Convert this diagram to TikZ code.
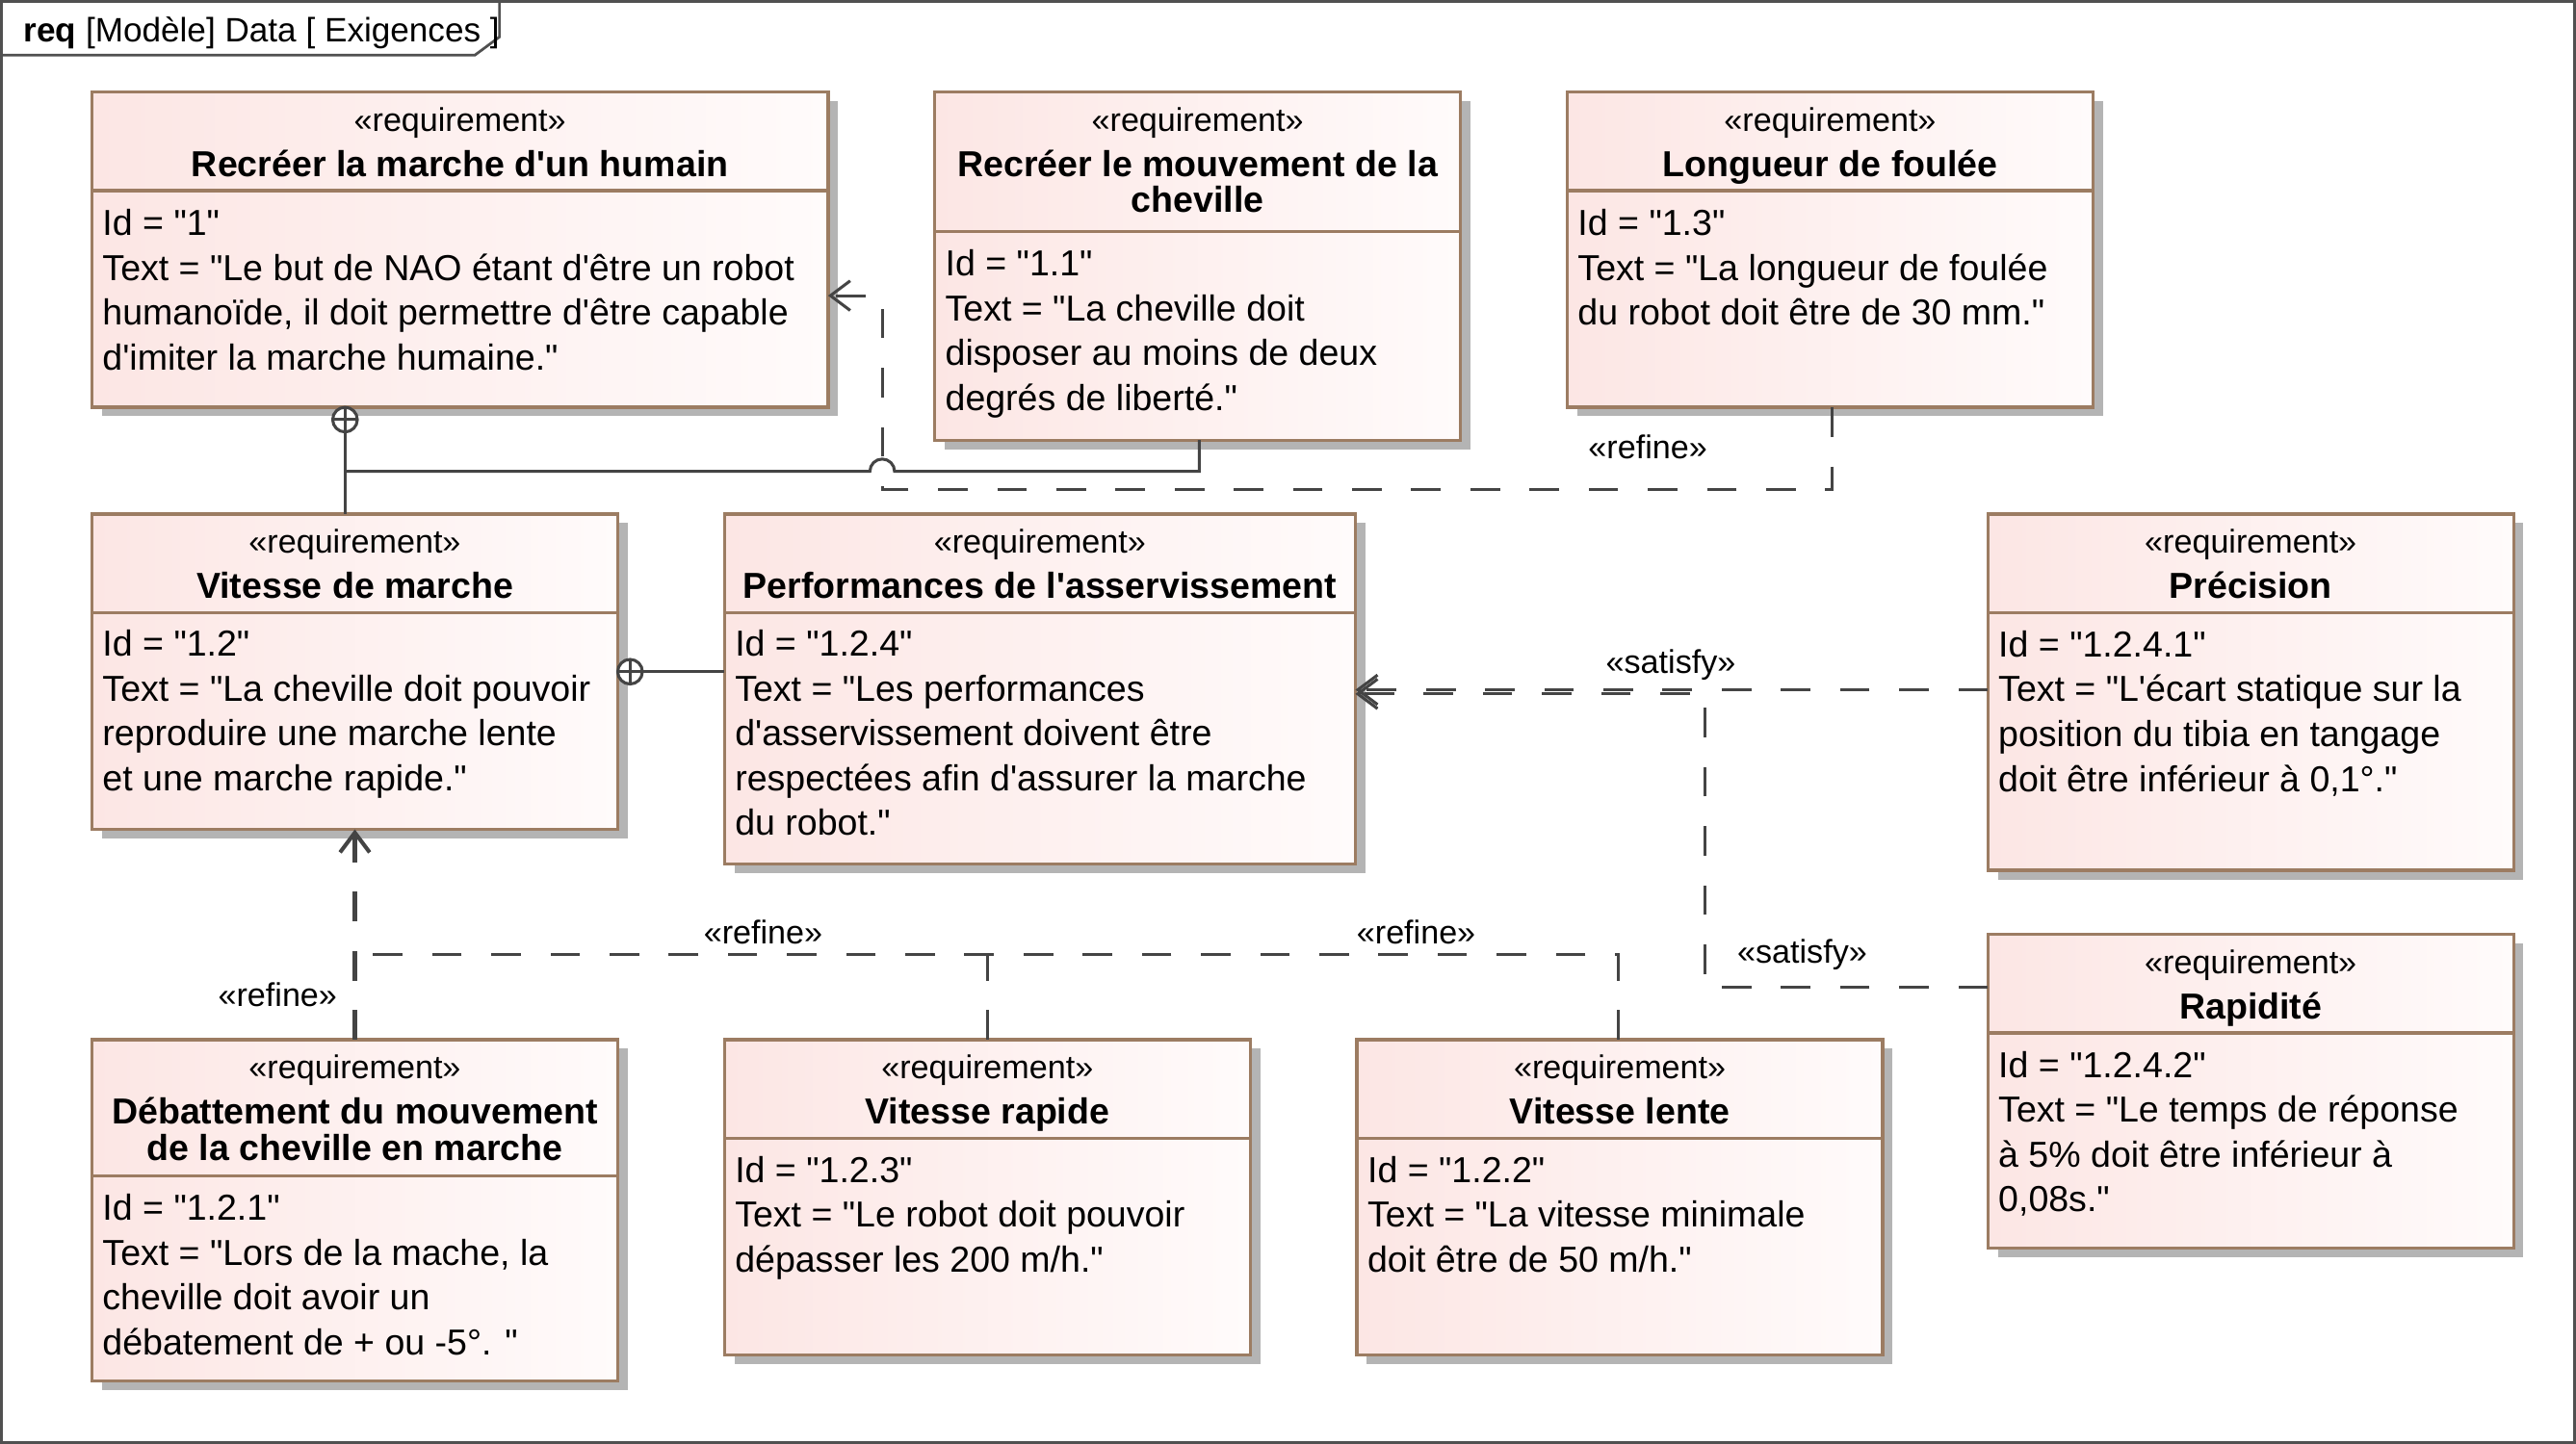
\documentclass[tikz,border=0pt]{standalone}
\usepackage{fontspec}
\setmainfont{Liberation Sans}[Ligatures=TeXOff]
\usetikzlibrary{arrows.meta,calc,fit}
\definecolor{reqborder}{RGB}{156,124,98}
\definecolor{reqpink}{RGB}{252,230,228}
\definecolor{reqwhite}{RGB}{255,251,251}
\definecolor{shadowgray}{RGB}{180,180,180}
\definecolor{linegray}{RGB}{68,68,68}
\definecolor{framegray}{RGB}{80,80,80}
\newcommand{\reqbox}[6]{%
  \fill[shadowgray] (#2+6,#3+5.5) rectangle (#4+6,#5+5.5);
  \node[reqnode, fit={(#2,#3) (#4,#5)}] (#1) {};
  \draw[reqsep] (#2,#6) -- (#4,#6);}
\newcommand{\bodylines}[1]{\begin{tabular}[t]{@{}l@{}}#1\end{tabular}}
\begin{document}
\begin{tikzpicture}[x=0.5pt,y=-0.5pt,
  reqnode/.style={draw=reqborder,line width=1pt,left color=reqpink,right color=reqwhite,inner sep=0pt,outer sep=0pt},
  reqsep/.style={draw=reqborder,line width=1pt},
  stereo/.style={anchor=base,inner sep=0pt,font=\fontsize{10}{12}\selectfont},
  rtitle/.style={anchor=base,inner sep=0pt,font=\fontsize{11}{13}\selectfont\bfseries},
  rbody/.style={anchor=base west,inner sep=0pt,font=\fontsize{11}{13.65}\selectfont},
  lbl/.style={anchor=base,inner sep=0pt,font=\fontsize{10}{12}\selectfont},
  cline/.style={draw=linegray,line width=0.9pt},
  dplain/.style={draw=linegray,line width=0.9pt,dash pattern=on 9pt off 9pt},
  dline/.style={dplain,-{Straight Barb[length=6pt,width=9pt]}},
  ownc/.style={circle,draw=linegray,line width=0.9pt,fill=white,minimum size=7.5pt,inner sep=0pt,outer sep=0pt}]
\useasboundingbox (0,0) rectangle (1568,879);
% frame
\draw[framegray,line width=0.8pt] (0.8,0.8) rectangle (1567.2,878.2);
\draw[framegray,line width=0.8pt] (0.8,33.6) -- (289,33.6) -- (304,22.5) -- (304,0.8);
\node[anchor=base west,inner sep=0pt,font=\fontsize{10.3}{12}\selectfont] (ttl) at (14,25.4) {\textbf{req} [Modèle] Data [ Exigences ]};
% boxes
\reqbox{b1}{56}{56}{504}{248}{116}
\reqbox{b2}{569}{56}{889}{268}{141}
\reqbox{b3}{954}{56}{1274}{248}{116}
\reqbox{b4}{56}{313}{376}{505}{373}
\reqbox{b5}{441}{313}{825}{526}{373}
\reqbox{b6}{1210}{313}{1530}{530}{373}
\reqbox{b7}{1210}{569}{1530}{760}{629}
\reqbox{b8}{56}{633}{376}{841}{716}
\reqbox{b9}{441}{633}{761}{825}{693}
\reqbox{b10}{826}{633}{1146}{825}{693}
% texts b1
\node[stereo] (b1s) at (280,80) {«requirement»};
\node[rtitle] (b1t) at (280,107.5) {Recréer la marche d'un humain};
\node[rbody] (b1x) at (62,143.5) {\bodylines{Id = "1"\\Text = "Le but de NAO étant d'être un robot\\humanoïde, il doit permettre d'être capable\\d'imiter la marche humaine."}};
% b2
\node[stereo] (b2s) at (729,80) {«requirement»};
\node[rtitle] (b2t) at (729,107.5) {Recréer le mouvement de la};
\node[rtitle] (b2u) at (729,129.5) {cheville};
\node[rbody] (b2x) at (575,168) {\bodylines{Id = "1.1"\\Text = "La cheville doit\\disposer au moins de deux\\degrés de liberté."}};
% b3
\node[stereo] (b3s) at (1114,80) {«requirement»};
\node[rtitle] (b3t) at (1114,107.5) {Longueur de foulée};
\node[rbody] (b3x) at (960,143.5) {\bodylines{Id = "1.3"\\Text = "La longueur de foulée\\du robot doit être de 30 mm."}};
% b4
\node[stereo] (b4s) at (216,337) {«requirement»};
\node[rtitle] (b4t) at (216,364.5) {Vitesse de marche};
\node[rbody] (b4x) at (62,399.5) {\bodylines{Id = "1.2"\\Text = "La cheville doit pouvoir\\reproduire une marche lente\\et une marche rapide."}};
% b5
\node[stereo] (b5s) at (633,337) {«requirement»};
\node[rtitle] (b5t) at (633,364.5) {Performances de l'asservissement};
\node[rbody] (b5x) at (447,399.5) {\bodylines{Id = "1.2.4"\\Text = "Les performances\\d'asservissement doivent être\\respectées afin d'assurer la marche\\du robot."}};
% b6
\node[stereo] (b6s) at (1370,337) {«requirement»};
\node[rtitle] (b6t) at (1370,364.5) {Précision};
\node[rbody] (b6x) at (1216,400) {\bodylines{Id = "1.2.4.1"\\Text = "L'écart statique sur la\\position du tibia en tangage\\doit être inférieur à 0,1°."}};
% b7
\node[stereo] (b7s) at (1370,593) {«requirement»};
\node[rtitle] (b7t) at (1370,620.5) {Rapidité};
\node[rbody] (b7x) at (1216,656) {\bodylines{Id = "1.2.4.2"\\Text = "Le temps de réponse\\à 5\% doit être inférieur à\\0,08s."}};
% b8
\node[stereo] (b8s) at (216,657) {«requirement»};
\node[rtitle] (b8t) at (216,684.5) {Débattement du mouvement};
\node[rtitle] (b8u) at (216,706.5) {de la cheville en marche};
\node[rbody] (b8x) at (62,743) {\bodylines{Id = "1.2.1"\\Text = "Lors de la mache, la\\cheville doit avoir un\\débatement de + ou -5°. "}};
% b9
\node[stereo] (b9s) at (601,657) {«requirement»};
\node[rtitle] (b9t) at (601,684.5) {Vitesse rapide};
\node[rbody] (b9x) at (447,720) {\bodylines{Id = "1.2.3"\\Text = "Le robot doit pouvoir\\dépasser les 200 m/h."}};
% b10
\node[stereo] (b10s) at (986,657) {«requirement»};
\node[rtitle] (b10t) at (986,684.5) {Vitesse lente};
\node[rbody] (b10x) at (832,720) {\bodylines{Id = "1.2.2"\\Text = "La vitesse minimale\\doit être de 50 m/h."}};
% containment b1 -> b4, b2
\node[ownc] (o1) at ($(b1.south west)+(154,7.5)$) {};
\draw[cline] (o1.north) -- (o1.south) (o1.west) -- (o1.east);
\draw[cline] (o1.south) -- ($(b4.north west)+(154,0)$);
\draw[cline] ($(b1.south west)+(154,39)$) -- ++(319.5,0) arc[start angle=180,end angle=0,radius=3.75pt] -- ($(b2.south west)+(161,19)$) -- ($(b2.south west)+(161,0)$);
% containment b4 -> b5
\node[ownc] (o2) at ($(b4.north east)+(7.5,96)$) {};
\draw[cline] (o2.north) -- (o2.south) (o2.west) -- (o2.east);
\draw[cline] (o2.east) -- ($(b5.north west)+(0,96)$);
% refine b3 -> b1
\draw[dline] ($(b3.south west)+(161,0)$) -- ++(0,50) -| ($(b1.north east)+(33,124)$) -- ($(b1.north east)+(0,124)$);
\node[lbl] (l1) at (1003,279.5) {«refine»};
% refine b8, b9, b10 -> b4 (merged tree)
\coordinate (j) at ($(b4.south west)+(160,76)$);
\coordinate (k) at ($(b9.north west)+(160,-52)$);
\draw[dline,line width=1.2pt] ($(b8.north west)+(160,0)$) -- ($(b4.south west)+(160,0)$);
\draw[dplain] ($(b9.north west)+(160,0)$) -- (k);
\draw[dplain] ($(b10.north west)+(159,0)$) -- ++(0,-52) -- (j);
\node[lbl] (l2) at (169,613) {«refine»};
\node[lbl] (l3) at (464.5,575) {«refine»};
\node[lbl] (l4) at (862,575) {«refine»};
% satisfy b6, b7 -> b5
\draw[dline] ($(b6.north west)+(0,107)$) -- ($(b5.north east)+(0,107)$);
\draw[dline] ($(b7.north west)+(0,32)$) -- ++(-172,0) |- ($(b5.north east)+(0,109.5)$);
\node[lbl] (l5) at (1017,410) {«satisfy»};
\node[lbl] (l6) at (1097,586.5) {«satisfy»};
\end{tikzpicture}
\end{document}
